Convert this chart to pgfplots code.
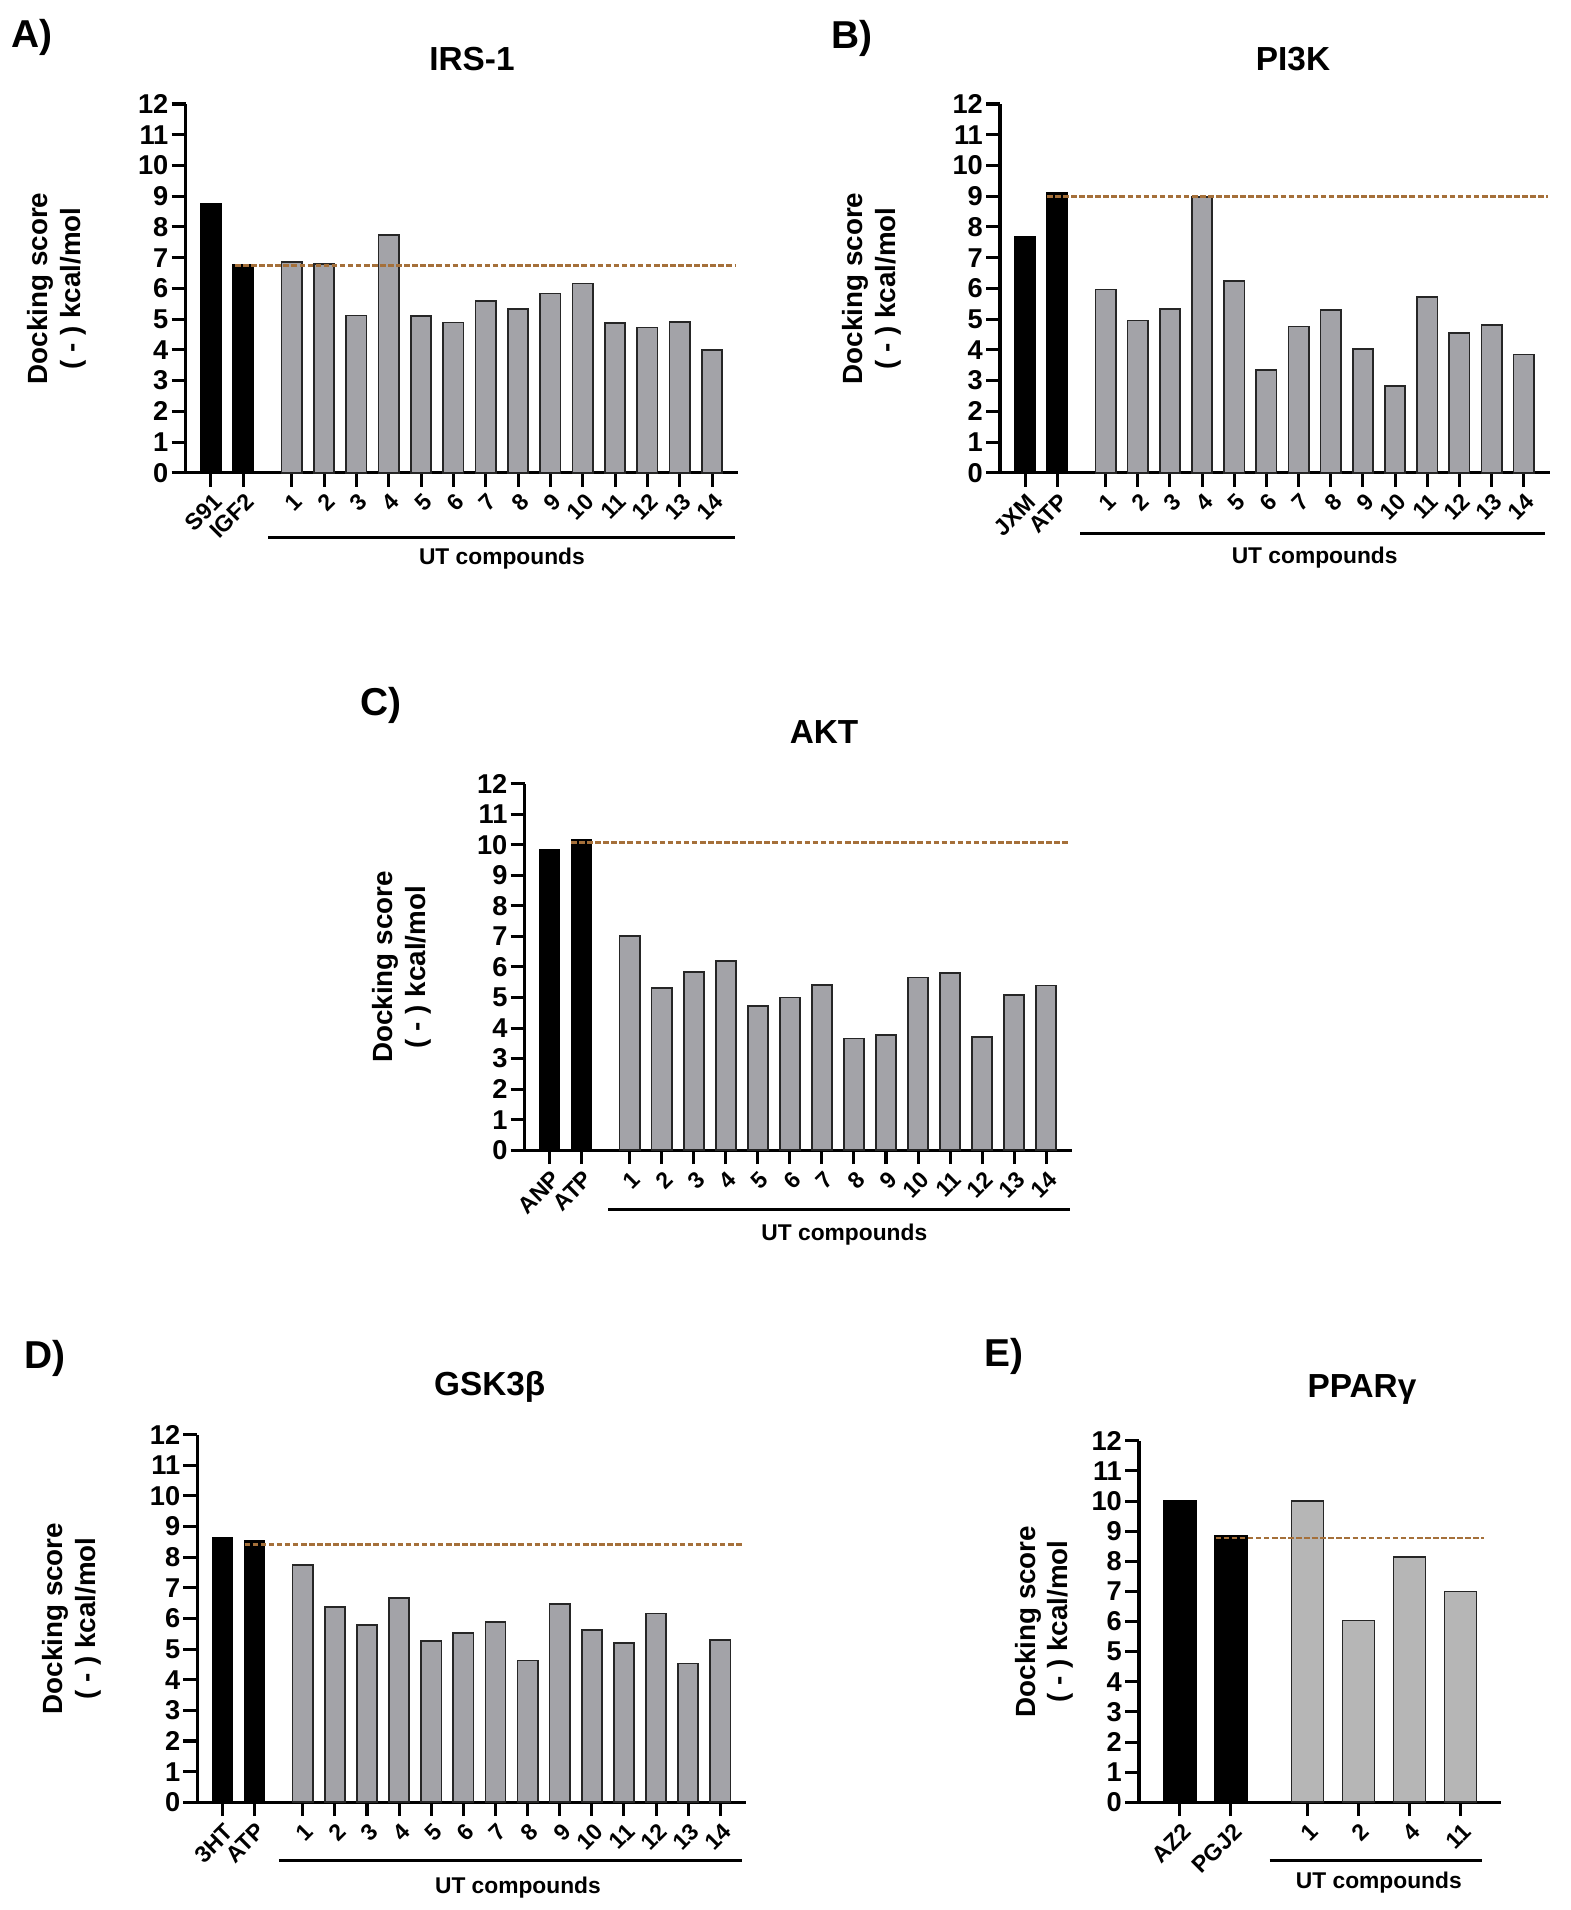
\documentclass[border=0pt]{standalone}
\usepackage{pgfplots}
\pgfplotsset{compat=1.18}
\usepackage{fontspec}
\setmainfont{Liberation Sans}
\definecolor{barA}{RGB}{163,163,168}
\definecolor{barE}{RGB}{182,182,182}
\definecolor{refline}{RGB}{165,112,58}
\pgfplotsset{
  dock/.style={
    scale only axis, anchor=south west, clip=false,
    ymin=0, ymax=12, ytick={0,1,...,12},
    axis lines*=left,
    axis line style={line width=1.1pt, black},
    tick align=outside, major tick length=5pt,
    tick style={black, line width=1.1pt},
    /pgf/number format/assume math mode=true,
    yticklabel style={font=\fontsize{9.8}{10}\selectfont\bfseries, inner sep=1pt},
    xticklabel style={font=\fontsize{8.3}{9}\selectfont\bfseries, rotate=45, anchor=north east, inner sep=0.5pt, yshift=-1pt, xshift=-0.5pt},
    ybar, bar width=0.63,
  },
  refbar/.style={fill=black, draw=black, line width=0.5pt, bar shift=0pt},
  cmpbar/.style={fill=barA, draw=black!85, line width=0.6pt, bar shift=0pt},
  dashref/.style={sharp plot, draw=refline, line width=1pt, dash pattern=on 2pt off 0.9pt, forget plot},
  cmpticks/.style={xtick={0,1,2.5,3.5,4.5,5.5,6.5,7.5,8.5,9.5,10.5,11.5,12.5,13.5,14.5,15.5}},
}
\newcommand{\utfont}{\fontsize{8.2}{9}\selectfont\bfseries}
\newcommand{\ttlfont}{\fontsize{12}{14}\selectfont\bfseries}
\newcommand{\letfont}{\fontsize{14}{16}\selectfont\bfseries}
\newcommand{\ylfont}{\fontsize{10}{11.8}\selectfont\bfseries}
\begin{document}
\begin{tikzpicture}
\path (0,0) rectangle (565.2pt,687.6pt);

% ---------- A) IRS-1 ----------
\begin{axis}[dock, at={(66.82pt,517.39pt)}, width=198.86pt, height=132.77pt,
  xmin=-0.78, xmax=16.3, cmpticks,
  xticklabels={S91,IGF2,1,2,3,4,5,6,7,8,9,10,11,12,13,14}]
\addplot[refbar] coordinates {(0,8.77) (1,6.77)};
\addplot[cmpbar] coordinates {(2.5,6.85) (3.5,6.80) (4.5,5.12) (5.5,7.73) (6.5,5.10) (7.5,4.89) (8.5,5.60) (9.5,5.32) (10.5,5.83) (11.5,6.16) (12.5,4.87) (13.5,4.73) (14.5,4.91) (15.5,3.99)};
\addplot[dashref] coordinates {(0.75,6.75) (16.25,6.75)};
\draw[line width=1.1pt] ([yshift=-23.4pt]axis cs:1.78,0) -- ([yshift=-23.4pt]axis cs:16.2,0);
\node[font=\utfont] at ([yshift=-31pt]axis cs:9,0) {UT compounds};
\end{axis}

% ---------- B) PI3K ----------
\begin{axis}[dock, at={(360.0pt,517.39pt)}, width=197.82pt, height=132.77pt,
  xmin=-0.78, xmax=16.3, cmpticks,
  xticklabels={JXM,ATP,1,2,3,4,5,6,7,8,9,10,11,12,13,14}]
\addplot[refbar] coordinates {(0,7.67) (1,9.10)};
\addplot[cmpbar] coordinates {(2.5,5.96) (3.5,4.96) (4.5,5.33) (5.5,8.97) (6.5,6.25) (7.5,3.34) (8.5,4.76) (9.5,5.30) (10.5,4.03) (11.5,2.82) (12.5,5.72) (13.5,4.54) (14.5,4.81) (15.5,3.85)};
\addplot[dashref] coordinates {(0.68,9.0) (16.25,9.0)};
\draw[line width=1.1pt] ([yshift=-21.8pt]axis cs:1.72,0) -- ([yshift=-21.8pt]axis cs:16.15,0);
\node[font=\utfont] at ([yshift=-30.6pt]axis cs:9,0) {UT compounds};
\end{axis}

% ---------- C) AKT ----------
\begin{axis}[dock, at={(188.86pt,273.49pt)}, width=196.99pt, height=132.01pt,
  xmin=-0.78, xmax=16.3, cmpticks,
  xticklabels={ANP,ATP,1,2,3,4,5,6,7,8,9,10,11,12,13,14}]
\addplot[refbar] coordinates {(0,9.85) (1,10.16)};
\addplot[cmpbar] coordinates {(2.5,7.02) (3.5,5.32) (4.5,5.84) (5.5,6.20) (6.5,4.73) (7.5,5.00) (8.5,5.42) (9.5,3.66) (10.5,3.77) (11.5,5.65) (12.5,5.80) (13.5,3.71) (14.5,5.08) (15.5,5.39)};
\addplot[dashref] coordinates {(0.67,10.08) (16.25,10.08)};
\draw[line width=1.1pt] ([yshift=-21.3pt]axis cs:1.83,0) -- ([yshift=-21.3pt]axis cs:16.25,0);
\node[font=\utfont] at ([yshift=-30.2pt]axis cs:9.2,0) {UT compounds};
\end{axis}

% ---------- D) GSK3beta ----------
\begin{axis}[dock, at={(71.06pt,38.77pt)}, width=197.5pt, height=132.37pt,
  xmin=-0.78, xmax=16.3, cmpticks,
  xticklabels={3HT,ATP,1,2,3,4,5,6,7,8,9,10,11,12,13,14}]
\addplot[refbar] coordinates {(0,8.63) (1,8.54)};
\addplot[cmpbar] coordinates {(2.5,7.74) (3.5,6.38) (4.5,5.78) (5.5,6.67) (6.5,5.26) (7.5,5.53) (8.5,5.89) (9.5,4.63) (10.5,6.48) (11.5,5.62) (12.5,5.20) (13.5,6.16) (14.5,4.53) (15.5,5.30)};
\addplot[dashref] coordinates {(0.69,8.42) (16.2,8.42)};
\draw[line width=1.1pt] ([yshift=-21pt]axis cs:1.76,0) -- ([yshift=-21pt]axis cs:16.19,0);
\node[font=\utfont] at ([yshift=-30.6pt]axis cs:9.2,0) {UT compounds};
\end{axis}

% ---------- E) PPARgamma ----------
\begin{axis}[dock, at={(410.04pt,38.77pt)}, width=130.25pt, height=130.14pt,
  xmin=-0.8, xmax=6.29,
  xtick={0,1,2.5,3.5,4.5,5.5},
  xticklabels={AZ2,PGJ2,1,2,4,11}]
\addplot[refbar] coordinates {(0,10.0) (1,8.84)};
\addplot[cmpbar, fill=barE] coordinates {(2.5,10.0) (3.5,6.03) (4.5,8.15) (5.5,7.0)};
\addplot[dashref] coordinates {(0.7,8.77) (5.96,8.77)};
\draw[line width=1.1pt] ([yshift=-21pt]axis cs:1.76,0) -- ([yshift=-21pt]axis cs:5.92,0);
\node[font=\utfont] at ([yshift=-29pt]axis cs:3.9,0) {UT compounds};
\end{axis}

% ---------- titles, panel letters, y labels ----------
\node[font=\ttlfont] at (169.92pt,666.36pt) {IRS-1};
\node[font=\ttlfont] at (465.48pt,666.36pt) {PI3K};
\node[font=\ttlfont] at (296.64pt,424.08pt) {AKT};
\node[font=\ttlfont] at (176.29pt,188.28pt) {GSK3β};
\node[font=\ttlfont] at (490.32pt,187.38pt) {PPARγ};

\node[font=\letfont] at (11.52pt,674.28pt) {A)};
\node[font=\letfont] at (306.72pt,673.92pt) {B)};
\node[font=\letfont] at (137.16pt,433.8pt) {C)};
\node[font=\letfont] at (16.2pt,198.72pt) {D)};
\node[font=\letfont] at (361.44pt,199.44pt) {E)};

\node[font=\ylfont, rotate=90, align=center] at (20.34pt,583.78pt) {Docking score\\( - ) kcal/mol};
\node[font=\ylfont, rotate=90, align=center] at (313.85pt,583.78pt) {Docking score\\( - ) kcal/mol};
\node[font=\ylfont, rotate=90, align=center] at (144.65pt,339.48pt) {Docking score\\( - ) kcal/mol};
\node[font=\ylfont, rotate=90, align=center] at (25.92pt,104.94pt) {Docking score\\( - ) kcal/mol};
\node[font=\ylfont, rotate=90, align=center] at (375.91pt,103.86pt) {Docking score\\( - ) kcal/mol};
\end{tikzpicture}
\end{document}
